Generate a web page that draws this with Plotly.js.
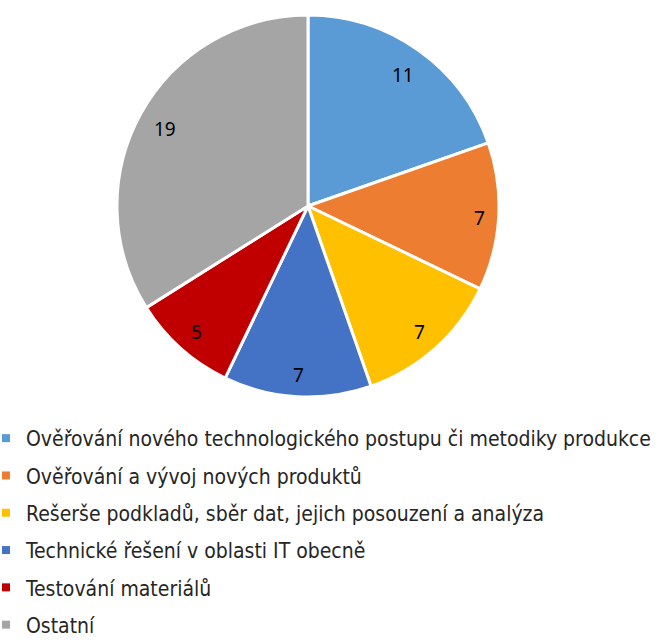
<!DOCTYPE html>
<html>
<head>
<meta charset="utf-8">
<script src="https://cdn.plot.ly/plotly-3.0.1.min.js"></script>
<style>html,body{margin:0;padding:0;background:#fff;}#chart{width:662px;height:642px;}</style>
</head>
<body>
<div id="chart"></div>
<script>
const categories = [
  "Ověřování nového technologického postupu či metodiky produkce",
  "Ověřování a vývoj nových produktů",
  "Rešerše podkladů, sběr dat, jejich posouzení a analýza",
  "Technické řešení v oblasti IT obecně",
  "Testování materiálů",
  "Ostatní"
];
const values = [11, 7, 7, 7, 5, 19];
const colors = ["#5B9BD5", "#ED7D31", "#FFC000", "#4472C4", "#C00000", "#A5A5A5"];

const W = 662, H = 642;
const legendFont = {family: "DejaVu Sans Condensed, DejaVu Sans, sans-serif", size: 21, color: "#262626"};
const labelFont = {family: "Noto Sans, sans-serif", size: 19, color: "#000000"};

// pie geometry (pixels)
const cx = 308, cy = 206, R = 191;

const pie = {
  type: "pie",
  labels: categories,
  values: values,
  sort: false,
  direction: "clockwise",
  rotation: 0,
  marker: {colors: colors, line: {color: "#ffffff", width: 3}},
  textinfo: "none",
  domain: {x: [(cx - R) / W, (cx + R) / W], y: [1 - (cy + R) / H, 1 - (cy - R) / H]},
  showlegend: false,
  hoverinfo: "label+value"
};

// data labels placed "inside end" like the original, computed from the values
const total = values.reduce((a, b) => a + b, 0);
let cum = 0;
const annotations = values.map((v) => {
  const mid = (cum + v / 2) / total * 2 * Math.PI;
  cum += v;
  const s = Math.sin(mid), c = Math.cos(mid);
  const txt = String(v);
  const hw = txt.length * 5.5, hh = 10;
  const d = R - 13 - (hw * Math.abs(s) + hh * Math.abs(c));
  return {
    x: (cx + d * s) / W, y: 1 - (cy - d * c) / H,
    xref: "paper", yref: "paper",
    text: txt, showarrow: false,
    xanchor: "center", yanchor: "middle",
    yshift: -2,
    font: labelFont
  };
});

const legendTraces = categories.map((c, i) => ({
  type: "scatter",
  mode: "markers",
  x: [null], y: [null],
  name: c,
  legendgroup: "g" + i,
  marker: {symbol: "square", size: 8, color: colors[i]},
  showlegend: true,
  hoverinfo: "skip"
}));

const layout = {
  width: W, height: H,
  margin: {l: 0, r: 0, t: 0, b: 0, pad: 0, autoexpand: false},
  paper_bgcolor: "#ffffff",
  plot_bgcolor: "#ffffff",
  xaxis: {visible: false, showgrid: false, zeroline: false},
  yaxis: {visible: false, showgrid: false, zeroline: false},
  showlegend: true,
  annotations: annotations,
  legend: {
    x: -14 / W, xanchor: "left",
    y: 1 - 418 / H, yanchor: "top",
    orientation: "v",
    traceorder: "grouped",
    tracegroupgap: 7,
    font: legendFont,
    bgcolor: "rgba(0,0,0,0)",
    itemwidth: 30
  }
};

Plotly.newPlot("chart", [pie].concat(legendTraces), layout, {displayModeBar: false, staticPlot: true});
</script>
</body>
</html>
